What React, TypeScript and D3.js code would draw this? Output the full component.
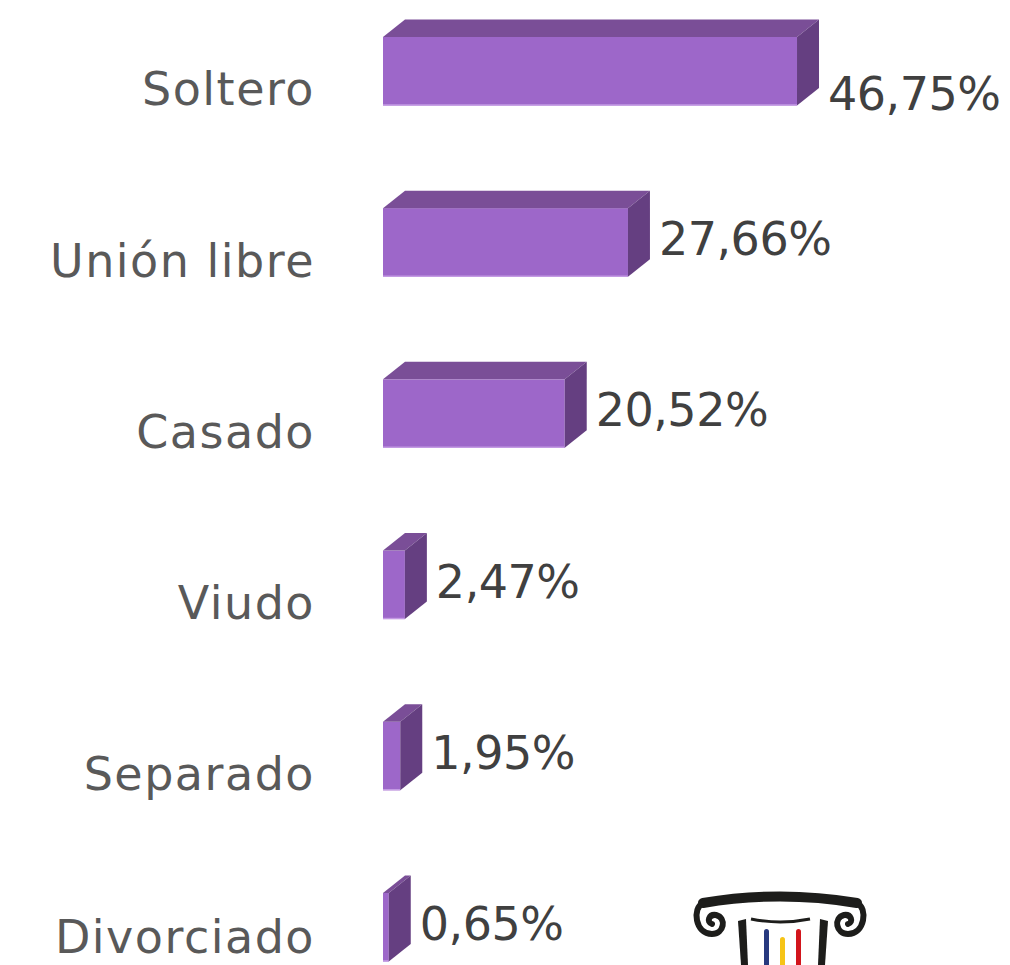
import * as d3 from 'd3';

// Estado civil (porcentajes)
const categories = ['Soltero', 'Unión libre', 'Casado', 'Viudo', 'Separado', 'Divorciado'];
const values = [46.75, 27.66, 20.52, 2.47, 1.95, 0.65];

const W = 1010;
const H = 965;
const DX = 22; // 3d depth, horizontal
const DY = -17.5; // 3d depth, vertical

const esFormat = d3.formatLocale({ decimal: ',', thousands: '.', grouping: [3], currency: ['', ''] }).format('.2f');

const FONT = '"DejaVu Sans", sans-serif';

const Logo = () => (
  <g>
    {/* top bar with volutes */}
    <path d="M703 903 Q780 890 857 903" fill="none" stroke="#1d1d1b" strokeWidth={10} strokeLinecap="round" />
    <path
      d="M703 903 C692 908 695 934 712 934 C724 934 727 918 716 915 C709 914 706 922 712 924"
      fill="none"
      stroke="#1d1d1b"
      strokeWidth={6}
      strokeLinecap="round"
    />
    <path
      d="M857 903 C868 908 865 934 848 934 C836 934 833 918 844 915 C851 914 854 922 848 924"
      fill="none"
      stroke="#1d1d1b"
      strokeWidth={6}
      strokeLinecap="round"
    />
    {/* shafts */}
    <path d="M738 921 L746 919 L748 965 L741 965 Z" fill="#1d1d1b" />
    <path d="M820 919 L828 921 L825 965 L818 965 Z" fill="#1d1d1b" />
    <path d="M751 919 Q780 925 810 919" fill="none" stroke="#1d1d1b" strokeWidth={3} />
    {/* stripes */}
    <rect x={764} y={929} width={5} height={40} rx={2.5} fill="#27397f" />
    <rect x={780} y={937} width={5} height={32} rx={2.5} fill="#f6c416" />
    <rect x={796} y={929} width={5} height={40} rx={2.5} fill="#d2151c" />
  </g>
);

export default function App() {
  const y = d3.scaleBand<string>().domain(categories).range([-14.4, 1012.8]).paddingInner(0.6).paddingOuter(0.3);
  const x = d3.scaleLinear().domain([0, 50]).range([383, 383 + 50 * 8.856]);

  return (
    <div style={{ position: 'fixed', left: 0, top: 0 }}>
      <svg width={W} height={H} style={{ display: 'block', background: '#fff' }}>
        {categories.map((c, i) => {
          const y0 = y(c)!;
          const bh = y.bandwidth();
          const x0 = x(0);
          const x1 = x(values[i]);
          const top = `M${x0},${y0} L${x0 + DX},${y0 + DY} L${x1 + DX},${y0 + DY} L${x1},${y0} Z`;
          const side = `M${x1},${y0} L${x1 + DX},${y0 + DY} L${x1 + DX},${y0 + bh + DY} L${x1},${y0 + bh} Z`;
          const labelX = x1 + DX + 9;
          // the widest label sits lower, like the original
          const labelY = x1 + DX > 780 ? y0 + 73 : y0 + 47;
          return (
            <g key={c}>
              <rect x={x0} y={y0} width={x1 - x0} height={bh} fill="#9d67c9" />
              <line x1={x0} x2={x1} y1={y0 + bh - 0.5} y2={y0 + bh - 0.5} stroke="#c39ae3" strokeWidth={1.5} />
              <path d={top} fill="#7a4e97" />
              <path d={side} fill="#653f81" />
              <text
                x={315}
                y={Math.min(y0 + bh, H - 12)}
                textAnchor="end"
                fontFamily={FONT}
                fontSize={46}
                letterSpacing={1.5}
                fill="#595959"
              >
                {c}
              </text>
              <text x={labelX} y={labelY} fontFamily={FONT} fontSize={46} letterSpacing={-0.5} fill="#404040">
                {esFormat(values[i]) + '%'}
              </text>
            </g>
          );
        })}
        <Logo />
      </svg>
    </div>
  );
}
